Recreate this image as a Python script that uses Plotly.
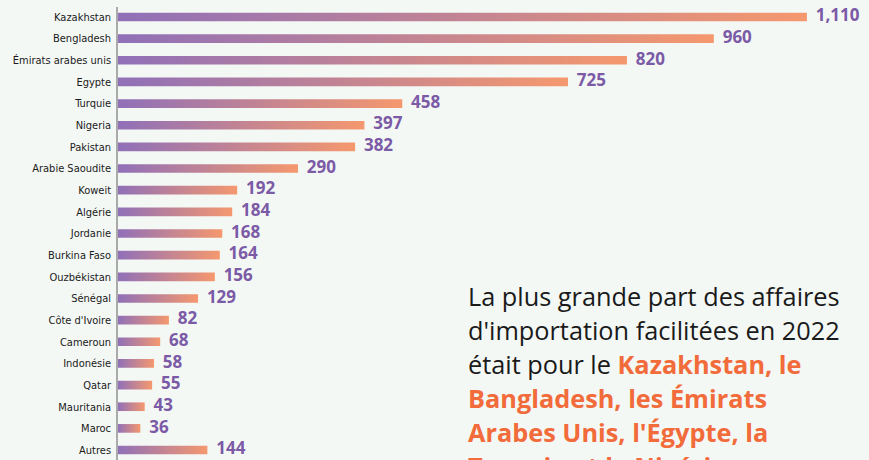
import plotly.graph_objects as go

countries = ["Kazakhstan", "Bengladesh", "Émirats arabes unis", "Egypte", "Turquie", "Nigeria",
             "Pakistan", "Arabie Saoudite", "Koweit", "Algérie", "Jordanie", "Burkina Faso",
             "Ouzbékistan", "Sénégal", "Côte d'Ivoire", "Cameroun", "Indonésie", "Qatar",
             "Mauritania", "Maroc", "Autres"]
values = [1110, 960, 820, 725, 458, 397, 382, 290, 192, 184, 168, 164, 156, 129, 82, 68, 58, 55, 43, 36, 144]

note_lines = [
    "La plus grande part des affaires",
    "d'importation facilitées en 2022",
    "était pour le <b><span style='color:#f26b3a'>Kazakhstan, le</span></b>",
    "<b><span style='color:#f26b3a'>Bangladesh, les Émirats</span></b>",
    "<b><span style='color:#f26b3a'>Arabes Unis, l'Égypte, la</span></b>",
    "<b><span style='color:#f26b3a'>Turquie et le Nigéria.</span></b>",
]

PURPLE = "#9070b8"
ORANGE = "#f5986e"
LABEL = "#7b5aa6"
BG = "#f4f8f5"
HALF = 0.2

fig = go.Figure()
for i, (c, v) in enumerate(zip(countries, values)):
    fig.add_trace(go.Scatter(
        x=[0, v, v, 0, 0], y=[i - HALF, i - HALF, i + HALF, i + HALF, i - HALF],
        mode="lines", line=dict(width=0), fill="toself",
        fillgradient=dict(type="horizontal", colorscale=[[0, PURPLE], [1, ORANGE]]),
        hoverinfo="skip", showlegend=False))

fig.add_trace(go.Scatter(
    x=values, y=list(range(len(values))), mode="text",
    text=["\u00a0\u00a0" + f"{v:,}" for v in values], textposition="middle right",
    textfont=dict(family="Open Sans", size=17, color=LABEL, weight="bold"),
    cliponaxis=False, showlegend=False, hoverinfo="skip"))

PLOT_TOP, PLOT_H = 7, 453
for k, line in enumerate(note_lines):
    yc = 296 + 34 * k
    fig.add_annotation(
        xref="paper", yref="paper", x=(466 - 118) / 751, y=1 - (yc - PLOT_TOP) / PLOT_H,
        xanchor="left", yanchor="middle", align="left", showarrow=False,
        text=line, font=dict(family="Open Sans", size=25.3, color="#1a1a1a"))

fig.update_layout(
    width=869, height=460,
    margin=dict(l=118, r=0, t=PLOT_TOP, b=0),
    paper_bgcolor=BG, plot_bgcolor=BG,
    xaxis=dict(range=[0, 1210], visible=False, fixedrange=True),
    yaxis=dict(range=[20.46, -0.46], tickmode="array", tickvals=list(range(len(countries))),
               ticktext=countries, showgrid=False, zeroline=False, fixedrange=True,
               showline=True, linecolor="#aaaaaa", linewidth=1.5, ticks="",
               ticklabelstandoff=3,
               tickfont=dict(family="DejaVu Sans Condensed", size=11, color="#1a1a1a")),
    showlegend=False,
)

fig.write_html("out.html", config={"displayModeBar": False},
               post_script="document.body.style.margin='0';")
